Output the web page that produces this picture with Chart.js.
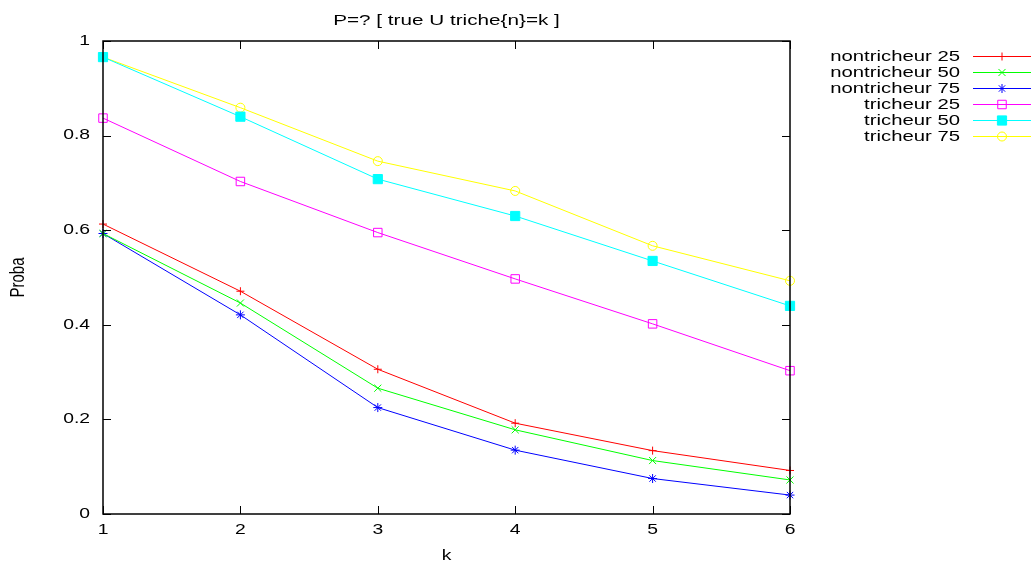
<!DOCTYPE html>
<html>
<head>
<meta charset="utf-8">
<title>P=? [ true U triche{n}=k ]</title>
<script src="https://cdn.jsdelivr.net/npm/chart.js"></script>
<style>
  html, body { margin: 0; padding: 0; background: #fff; }
  #wrap { width: 1034px; height: 566px; }
</style>
</head>
<body>
<div id="wrap"><canvas id="probaChart" width="1034" height="566"></canvas></div>
<script>
// values
const kLabels = ['1', '2', '3', '4', '5', '6'];
const yTicks = [0, 0.2, 0.4, 0.6, 0.8, 1];

const nontricheur25 = [0.613, 0.471, 0.306, 0.192, 0.134, 0.092];
const nontricheur50 = [0.593, 0.446, 0.266, 0.178, 0.113, 0.072];
const nontricheur75 = [0.593, 0.421, 0.225, 0.135, 0.075, 0.040];
const tricheur25 = [0.837, 0.703, 0.595, 0.497, 0.402, 0.303];
const tricheur50 = [0.966, 0.840, 0.708, 0.630, 0.535, 0.440];
const tricheur75 = [0.966, 0.859, 0.746, 0.683, 0.567, 0.493];

const FONT = 'Liberation Sans, Arial, Helvetica, sans-serif';
const none = 'rgba(0,0,0,0)';
// the original text is a bit wider than it is tall
const SX = 1.38;

const mk = (label, data, color, style, radius, fill) => ({
  label: label,
  data: data,
  borderColor: color,
  backgroundColor: fill,
  borderWidth: 1,
  pointStyle: style,
  pointRadius: radius,
  pointHoverRadius: radius,
  pointBorderColor: color,
  pointBackgroundColor: fill,
  pointBorderWidth: 1,
  tension: 0,
  fill: false
});

const datasets = [
  mk('nontricheur 25', nontricheur25, '#ff0000', 'cross', 4, none),
  mk('nontricheur 50', nontricheur50, '#00ff00', 'crossRot', 5, none),
  mk('nontricheur 75', nontricheur75, '#0000ff', 'star', 4.5, none),
  mk('tricheur 25', tricheur25, '#ff00ff', 'rect', 6, none),
  mk('tricheur 50', tricheur50, '#00ffff', 'rect', 6.5, '#00ffff'),
  mk('tricheur 75', tricheur75, '#ffff00', 'circle', 4.5, none)
];

function wideText(ctx, txt, x, y, align, baseline, sx, rot) {
  ctx.save();
  ctx.translate(x, y);
  ctx.scale(sx, 1);
  if (rot) ctx.rotate(rot);
  ctx.textAlign = align;
  ctx.textBaseline = baseline;
  ctx.fillText(txt, 0, 0);
  ctx.restore();
}

// gnuplot look: box border, inward mirrored ticks, labels, title, legend on the right
const gnuplotFrame = {
  id: 'gnuplotFrame',
  afterDraw(chart) {
    const ctx = chart.ctx;
    const a = chart.chartArea;
    const xs = chart.scales.x, ys = chart.scales.y;
    const tl = 8;
    ctx.save();
    ctx.strokeStyle = '#000';
    ctx.lineWidth = 1.5;
    ctx.strokeRect(a.left, a.top, a.right - a.left, a.bottom - a.top);
    ctx.lineWidth = 1;
    ctx.beginPath();
    kLabels.forEach((lab, i) => {
      const px = Math.round(xs.getPixelForValue(i)) + 0.5;
      ctx.moveTo(px, a.bottom); ctx.lineTo(px, a.bottom - tl);
      ctx.moveTo(px, a.top); ctx.lineTo(px, a.top + tl);
    });
    yTicks.forEach(v => {
      const py = Math.round(ys.getPixelForValue(v)) + 0.5;
      ctx.moveTo(a.left, py); ctx.lineTo(a.left + tl, py);
      ctx.moveTo(a.right, py); ctx.lineTo(a.right - tl, py);
    });
    ctx.stroke();

    ctx.fillStyle = '#000';
    ctx.font = '14px ' + FONT;
    // tick labels
    kLabels.forEach((lab, i) => {
      wideText(ctx, lab, xs.getPixelForValue(i), a.bottom + 16, 'center', 'middle', SX);
    });
    yTicks.forEach(v => {
      wideText(ctx, String(v), a.left - 13, ys.getPixelForValue(v), 'right', 'middle', SX);
    });
    // axis titles
    wideText(ctx, 'k', (a.left + a.right) / 2, 560, 'center', 'alphabetic', SX);
    ctx.font = '15px ' + FONT;
    wideText(ctx, 'Proba', 18, (a.top + a.bottom) / 2, 'center', 'middle', SX, -Math.PI / 2);

    // title
    wideText(ctx, 'P=? [ true U triche{n}=k ]', (a.left + a.right) / 2, 25, 'center', 'alphabetic', SX);

    // legend
    ctx.font = '14px ' + FONT;
    chart.data.datasets.forEach((ds, i) => {
      const y = 56 + i * 16;
      ctx.fillStyle = '#000';
      wideText(ctx, ds.label, 960, y + 1, 'right', 'middle', 1.45);
      ctx.strokeStyle = ds.borderColor;
      ctx.lineWidth = 1;
      ctx.beginPath();
      ctx.moveTo(973, y + 0.5); ctx.lineTo(1031, y + 0.5);
      ctx.stroke();
      if (Chart.helpers && Chart.helpers.drawPoint) {
        ctx.fillStyle = ds.pointBackgroundColor;
        ctx.strokeStyle = ds.pointBorderColor;
        Chart.helpers.drawPoint(ctx, {
          pointStyle: ds.pointStyle,
          radius: ds.pointRadius,
          rotation: 0,
          borderWidth: 1
        }, 1002, y + 0.5);
      }
    });
    ctx.restore();
  }
};

new Chart(document.getElementById('probaChart').getContext('2d'), {
  type: 'line',
  data: { labels: kLabels, datasets: datasets },
  plugins: [gnuplotFrame],
  options: {
    responsive: false,
    animation: false,
    events: [],
    layout: { padding: { left: 0, top: 41, right: 244, bottom: 0 } },
    plugins: {
      legend: { display: false },
      title: { display: false },
      tooltip: { enabled: false }
    },
    scales: {
      x: {
        type: 'category',
        offset: false,
        grid: { display: false, drawTicks: false },
        border: { display: false },
        ticks: { display: false },
        afterFit(scale) { scale.height = 52; }
      },
      y: {
        min: 0,
        max: 1,
        afterBuildTicks(scale) { scale.ticks = yTicks.map(v => ({ value: v })); },
        grid: { display: false, drawTicks: false },
        border: { display: false },
        ticks: { display: false },
        afterFit(scale) { scale.width = 103; }
      }
    }
  }
});
</script>
</body>
</html>
